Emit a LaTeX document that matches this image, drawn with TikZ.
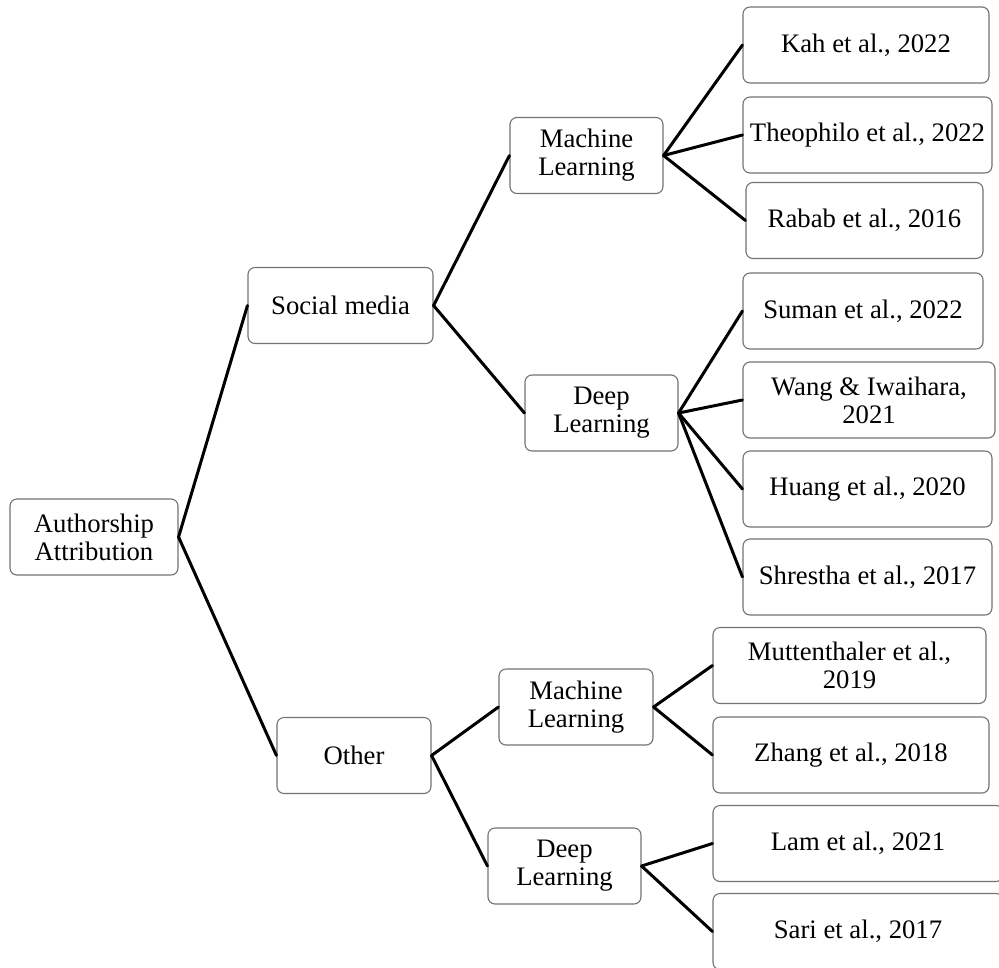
\documentclass[tikz,border=0pt]{standalone}
\usepackage{fontspec}
\setmainfont{Liberation Serif}
\begin{document}
\begin{tikzpicture}[x=1pt,y=-1pt,
  box/.style={draw=black!55, line width=1.1pt, rounded corners=7pt, fill=white,
    inner sep=0pt, align=center, font=\fontsize{26.7}{28}\selectfont,
    minimum height=76pt},
  link/.style={draw=black, line width=3pt, line cap=round}]
\useasboundingbox (0,0) rectangle (999,967);
\clip (0,0) rectangle (999,967);

% tree levels
\node[box, minimum width=168pt] (root) at (94,537) {Authorship\\Attribution};
\node[box, minimum width=185pt] (sm) at (340.5,305.5) {Social media};
\node[box, minimum width=154pt] (oth) at (354,755.5) {Other};
\node[box, minimum width=153pt] (ml1) at (586.5,155.5) {Machine\\Learning};
\node[box, minimum width=153pt] (dl1) at (601.5,413) {Deep\\Learning};
\node[box, minimum width=154pt] (ml2) at (576,707) {Machine\\Learning};
\node[box, minimum width=153pt] (dl2) at (564.5,866) {Deep\\Learning};

% references
\node[box, minimum width=246pt] (kah) at (866,45) {Kah et al., 2022};
\node[box, minimum width=249pt] (theo) at (867.5,135) {Theophilo et al., 2022};
\node[box, minimum width=237pt] (rabab) at (864.5,220.5) {Rabab et al., 2016};
\node[box, minimum width=240pt] (suman) at (863,311) {Suman et al., 2022};
\node[box, minimum width=252pt] (wang) at (869,400) {Wang \& Iwaihara,\\2021};
\node[box, minimum width=249pt] (huang) at (867.5,489) {Huang et al., 2020};
\node[box, minimum width=249pt] (shr) at (867.5,577) {Shrestha et al., 2017};
\node[box, minimum width=273pt] (mutt) at (849.5,665.5) {Muttenthaler et al.,\\2019};
\node[box, minimum width=276pt] (zhang) at (851,755) {Zhang et al., 2018};
\node[box, minimum width=290pt] (lam) at (858,843.5) {Lam et al., 2021};
\node[box, minimum width=290pt] (sari) at (858,931.5) {Sari et al., 2017};

% connectors
\draw[link] (root.east) -- (sm.west);
\draw[link] (root.east) -- (oth.west);
\draw[link] (sm.east) -- (ml1.west);
\draw[link] (sm.east) -- (dl1.west);
\draw[link] (oth.east) -- (ml2.west);
\draw[link] (oth.east) -- (dl2.west);
\draw[link] (ml1.east) -- (kah.west);
\draw[link] (ml1.east) -- (theo.west);
\draw[link] (ml1.east) -- (rabab.west);
\draw[link] (dl1.east) -- (suman.west);
\draw[link] (dl1.east) -- (wang.west);
\draw[link] (dl1.east) -- (huang.west);
\draw[link] (dl1.east) -- (shr.west);
\draw[link] (ml2.east) -- (mutt.west);
\draw[link] (ml2.east) -- (zhang.west);
\draw[link] (dl2.east) -- (lam.west);
\draw[link] (dl2.east) -- (sari.west);
\end{tikzpicture}
\end{document}
